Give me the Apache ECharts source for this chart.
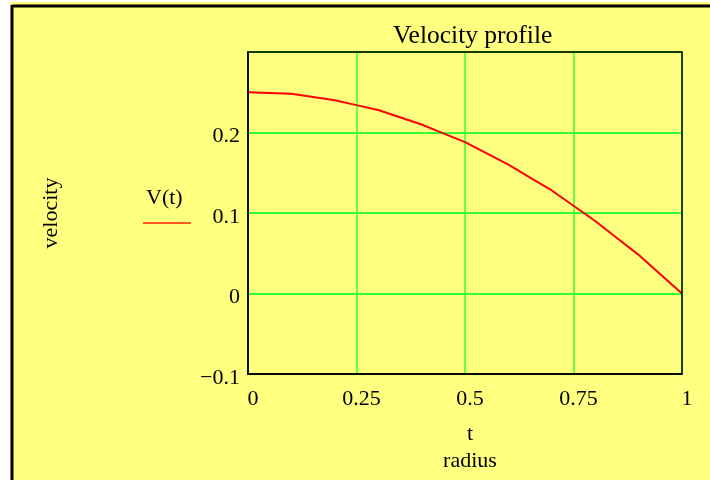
<!DOCTYPE html>
<html>
<head>
<meta charset="utf-8">
<script src="https://cdn.jsdelivr.net/npm/echarts@6/dist/echarts.min.js"></script>
<style>
  html, body { margin: 0; padding: 0; background: #ffffff; }
  #chart { width: 710px; height: 480px; }
</style>
</head>
<body>
<div id="chart"></div>
<script>
// radius values and velocity
var radius = [0, 0.05, 0.1, 0.15, 0.2, 0.25, 0.3, 0.35, 0.4, 0.45, 0.5,
              0.55, 0.6, 0.65, 0.7, 0.75, 0.8, 0.85, 0.9, 0.95, 1];
var velocity = [0.250, 0.249, 0.248, 0.244, 0.240, 0.234, 0.228, 0.219, 0.210, 0.199, 0.188,
                0.174, 0.160, 0.144, 0.128, 0.109, 0.090, 0.069, 0.048, 0.024, 0.000];
var xTicks = ['0', '0.25', '0.5', '0.75', '1'];
var yTicks = ['\u22120.1', '0', '0.1', '0.2', ''];

var serif = '"Liberation Serif", "DejaVu Serif", serif';
var pts = [];
for (var i = 0; i < radius.length; i++) pts.push([radius[i], velocity[i]]);

var chart = echarts.init(document.getElementById('chart'));
var option = {
	backgroundColor: 'transparent',
	animation: false,
	title: {
		text: 'Velocity profile',
		left: 388,
		top: 18,
		textStyle: { fontFamily: serif, fontSize: 25.5, fontWeight: 'normal', color: '#000' }
	},
	graphic: [
		{ type: 'rect', z: -10, shape: { x: 10, y: 2, width: 700, height: 478 }, style: { fill: '#ffff80' } },
		{ type: 'line', z: -5, shape: { x1: 12, y1: 6, x2: 710, y2: 6 }, style: { stroke: '#000', lineWidth: 3 } },
		{ type: 'line', z: -5, shape: { x1: 12, y1: 5, x2: 12, y2: 480 }, style: { stroke: '#000', lineWidth: 3 } },
		{ type: 'text', left: 146, top: 187, style: { text: 'V(t)', font: '22px ' + serif, fill: '#000' } },
		{ type: 'line', shape: { x1: 143, y1: 223, x2: 191, y2: 223 }, style: { stroke: '#ff2000', lineWidth: 1.5 } }
	],
	grid: {
		left: 248, top: 52, width: 434, height: 324, z: 5,
		show: true, borderColor: '#000', borderWidth: 1.5, backgroundColor: 'transparent'
	},
	xAxis: {
		type: 'value', min: 0, max: 1, interval: 0.25,
		name: 't\nradius', nameLocation: 'middle', nameGap: 47,
		nameTextStyle: { fontFamily: serif, fontSize: 22, color: '#000', lineHeight: 27, padding: [0, 0, 0, 10] },
		axisLine: { onZero: false, lineStyle: { color: '#000', width: 1.5 } },
		axisTick: { show: false },
		splitLine: { lineStyle: { color: '#33ff33', width: 1.5 } },
		axisLabel: {
			margin: 14, fontFamily: serif, fontSize: 22, color: '#000', padding: [0, 0, 0, 10],
			formatter: function (v) { return xTicks[Math.round(v / 0.25)]; }
		}
	},
	yAxis: {
		type: 'value', min: -0.1, max: 0.3, interval: 0.1,
		name: 'velocity', nameLocation: 'middle', nameGap: 186, nameRotate: 90,
		nameTextStyle: { fontFamily: serif, fontSize: 22, color: '#000' },
		axisLine: { show: true, lineStyle: { color: '#000', width: 1.5 } },
		axisTick: { show: false },
		splitLine: { lineStyle: { color: '#33ff33', width: 2 } },
		axisLabel: {
			margin: 8, fontFamily: serif, fontSize: 22, color: '#000',
			verticalAlign: 'top', lineHeight: 8,
			formatter: function (v) { return yTicks[Math.round((v + 0.1) / 0.1)]; }
		}
	},
	series: [{
		name: 'V(t)', type: 'line', data: pts, showSymbol: false,
		lineStyle: { color: '#ff0000', width: 2 }
	}]
};
chart.setOption(option);
</script>
</body>
</html>
